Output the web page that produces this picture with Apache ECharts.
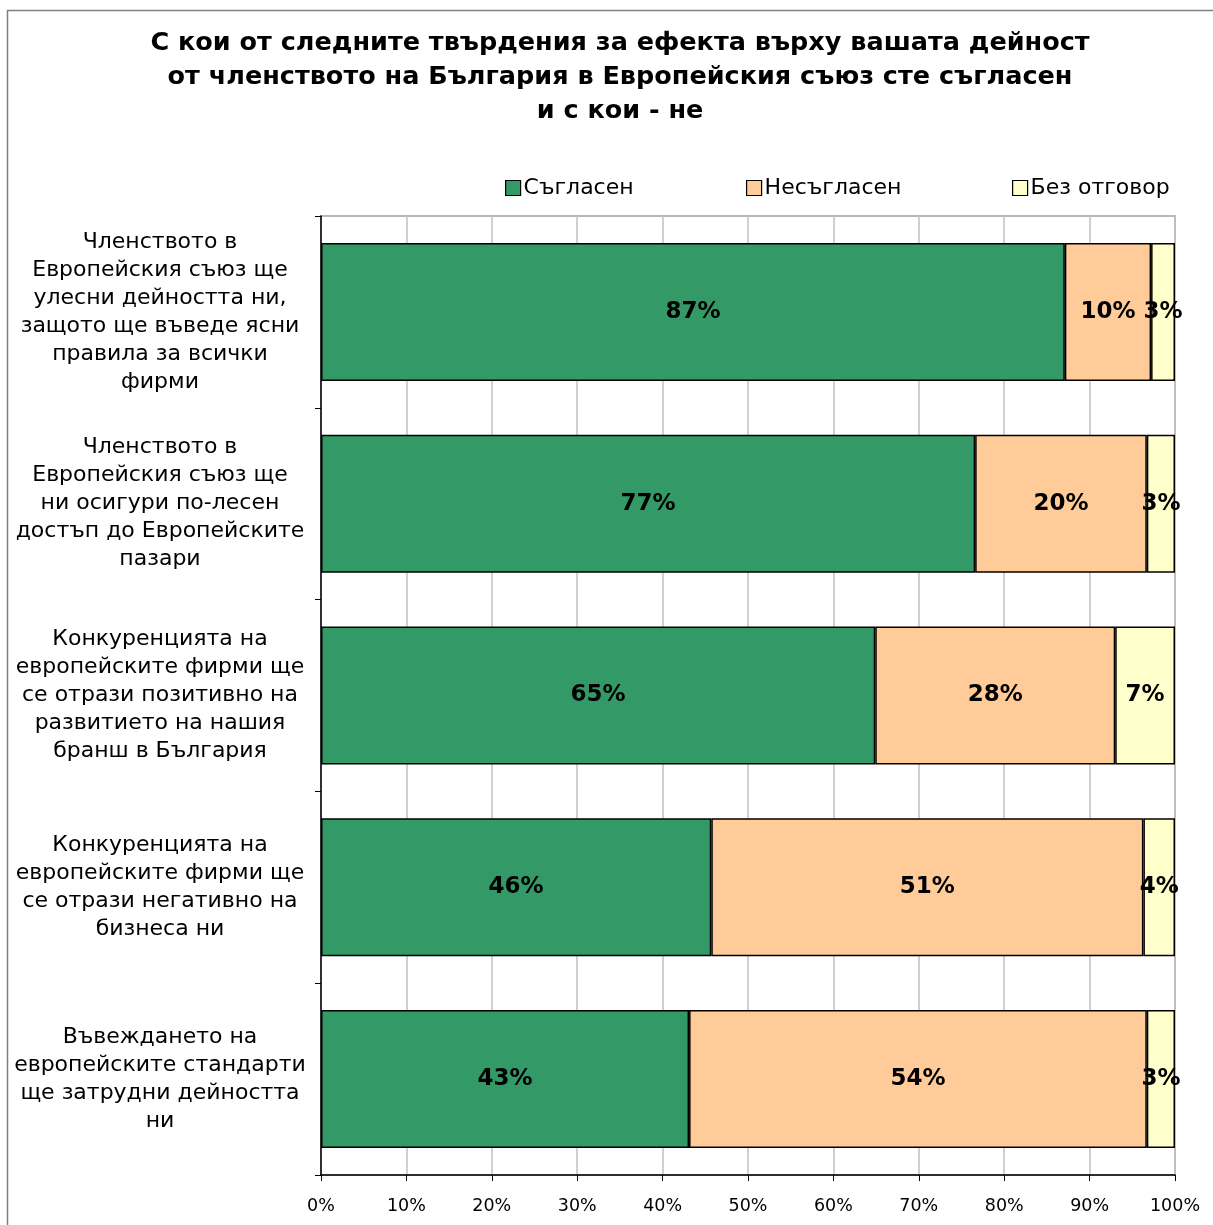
<!DOCTYPE html>
<html><head><meta charset="utf-8">
<script src="https://cdn.jsdelivr.net/npm/echarts@6/dist/echarts.min.js"></script>
<style>html,body{margin:0;padding:0;background:#fff}#c{width:1213px;height:1225px}</style>
</head><body><div id="c"></div>
<script>
const categories = [
  "Членството в\nЕвропейския съюз ще\nулесни дейността ни,\nзащото ще въведе ясни\nправила за всички\nфирми",
  "Членството в\nЕвропейския съюз ще\nни осигури по-лесен\nдостъп до Европейските\nпазари",
  "Конкуренцията на\nевропейските фирми ще\nсе отрази позитивно на\nразвитието на нашия\nбранш в България",
  "Конкуренцията на\nевропейските фирми ще\nсе отрази негативно на\nбизнеса ни",
  "Въвеждането на\nевропейските стандарти\nще затрудни дейността\nни"
];
const seriesNames = ["Съгласен", "Несъгласен", "Без отговор"];
const agree = [87.1, 76.6, 64.9, 45.7, 43.1];
const disagree = [10.1, 20.1, 28.1, 50.6, 53.6];
const noAnswer = [2.8, 3.3, 7.0, 3.7, 3.3];
const xTicks = [0, 10, 20, 30, 40, 50, 60, 70, 80, 90, 100];
const colors = ["#339966", "#FFCC99", "#FFFFCC"];
const titleText = "С кои от следните твърдения за ефекта върху вашата дейност\nот членството на България в Европейския съюз сте съгласен\nи с кои - не";

const FONT = "DejaVu Sans";
const chart = echarts.init(document.getElementById('c'), null, {renderer: 'canvas'});
const mk = (name, data, color) => ({
  name, type: 'bar', stack: 'total', data, barWidth: 138,
  itemStyle: {color, borderColor: '#000', borderWidth: 1.5},
  label: {show: true, position: 'inside', formatter: p => Math.round(p.value) + '%',
    fontFamily: FONT, fontWeight: 'bold', fontSize: 23, color: '#000'}
});
const legendPos = [500, 741, 1007];
chart.setOption({
  animation: false,
  backgroundColor: '#fff',
  title: {text: titleText, left: 615, textAlign: 'center', top: 21,
    textStyle: {fontFamily: FONT, fontWeight: 'bold', fontSize: 25.5, lineHeight: 34, color: '#000'}},
  legend: seriesNames.map((n, i) => ({
    data: [n], left: legendPos[i], top: 172, itemWidth: 15, itemHeight: 15, itemGap: 4,
    icon: 'rect', itemStyle: {borderColor: '#000', borderWidth: 1.2},
    textStyle: {fontFamily: FONT, fontSize: 22, color: '#000', padding: [0,0,0,-2]}
  })),
  grid: {left: 321, right: 38, top: 216, bottom: 50, show: true, borderColor: '#a0a0a0', borderWidth: 1.5},
  xAxis: {type: 'value', min: 0, max: 100, interval: 10,
    axisLine: {show: true, lineStyle: {color: '#000', width: 1.5}},
    axisTick: {show: true, length: 6, lineStyle: {color: '#000'}},
    splitLine: {show: true, lineStyle: {color: '#c0c0c0', width: 1.5}},
    axisLabel: {formatter: v => xTicks.includes(v) ? v + '%' : '', margin: 22,
      fontFamily: FONT, fontSize: 17.5, color: '#000'}},
  yAxis: {type: 'category', data: categories, inverse: true,
    axisLine: {show: true, lineStyle: {color: '#000', width: 1.5}},
    axisTick: {show: true, length: 6, lineStyle: {color: '#000'}},
    axisLabel: {margin: 161, align: 'center', fontFamily: FONT, fontSize: 22, lineHeight: 28, color: '#000'}},
  series: [mk(seriesNames[0], agree, colors[0]), mk(seriesNames[1], disagree, colors[1]), mk(seriesNames[2], noAnswer, colors[2])],
  graphic: [{type: 'rect', shape: {x: 7.5, y: 10.5, width: 1230, height: 1230},
    style: {fill: null, stroke: '#808080', lineWidth: 1.5}, silent: true, z: -1}]
});
</script></body></html>
